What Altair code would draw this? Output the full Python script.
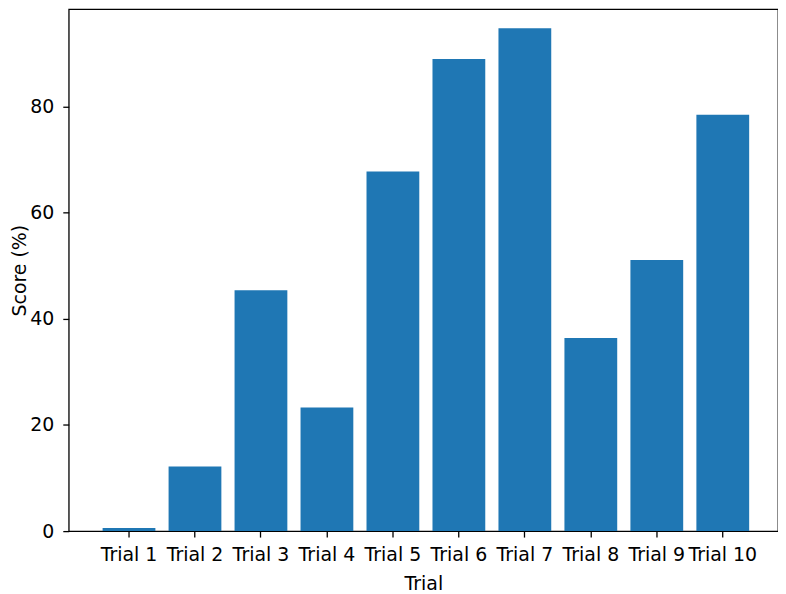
import altair as alt
import pandas as pd

trials = [f"Trial {i}" for i in range(1, 11)]
scores = [0.6, 12.2, 45.4, 23.3, 67.8, 89.0, 94.8, 36.4, 51.1, 78.5]
y_ticks = [0, 20, 40, 60, 80]

df = pd.DataFrame({"Trial": trials, "Score": scores})

FONT = "DejaVu Sans"
FS = 19

common_axis = dict(
    labelFontSize=FS,
    titleFontSize=FS,
    labelFont=FONT,
    titleFont=FONT,
    labelColor="black",
    titleColor="black",
    titleFontWeight="normal",
    tickSize=6,
    tickWidth=1.3,
    tickColor="black",
    domain=False,
    grid=False,
)

chart = alt.Chart(df).mark_bar(color="#1f77b4").encode(
    x=alt.X(
        "Trial:N",
        sort=trials,
        title="Trial",
        scale=alt.Scale(paddingInner=0.2, paddingOuter=0.475, align=0.54),
        axis=alt.Axis(
            labelAngle=0,
            labelOverlap=False,
            labelPadding=9,
            titlePadding=10,
            **common_axis,
        ),
    ),
    y=alt.Y(
        "Score:Q",
        title="Score (%)",
        scale=alt.Scale(domain=[0, 98.4], nice=False, zero=True),
        axis=alt.Axis(
            values=y_ticks,
            labelPadding=9,
            titlePadding=0,
            **common_axis,
        ),
    ),
).properties(
    width=712,
    height=524,
    autosize=alt.AutoSizeParams(type="none"),
    padding={"left": 61, "top": 0, "right": 0, "bottom": 64},
).configure(
    background="white",
).configure_view(
    stroke="black",
    strokeWidth=1.3,
)

chart.save("out.html", embed_options={"renderer": "svg", "actions": False})
